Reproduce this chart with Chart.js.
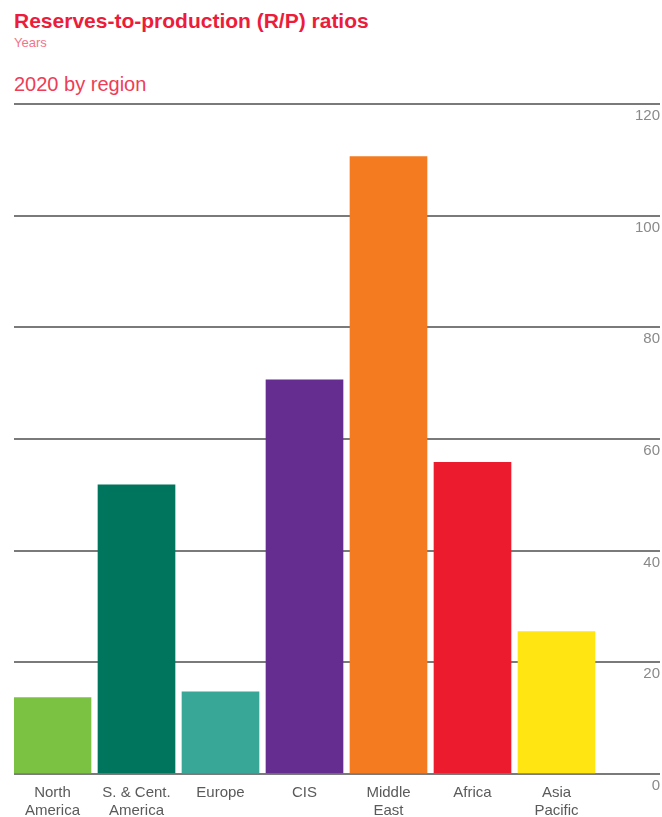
<!DOCTYPE html>
<html>
<head>
<meta charset="utf-8">
<script src="https://cdn.jsdelivr.net/npm/chart.js@4"></script>
<style>
  html, body { margin: 0; padding: 0; background: #fff; }
  #wrap { position: relative; width: 662px; height: 817px; overflow: hidden; }
  .hd { position: absolute; left: 14px; line-height: 1; font-family: "Liberation Sans", Arial, sans-serif; white-space: nowrap; }
  #t1 { top: 10px; font-size: 21px; font-weight: bold; color: #ec1c3a; }
  #t2 { top: 36px; font-size: 13px; color: #f2748a; }
  #t3 { top: 74px; font-size: 20px; color: #ee3d56; }
  canvas { position: absolute; left: 0; top: 0; }
</style>
</head>
<body>
<div id="wrap">
  <div class="hd" id="t1">Reserves-to-production (R/P) ratios</div>
  <div class="hd" id="t2">Years</div>
  <div class="hd" id="t3">2020 by region</div>
  <canvas id="c" width="662" height="817"></canvas>
</div>
<script>
// ---- data ----
const categories = ["North America", "S. & Cent. America", "Europe", "CIS", "Middle East", "Africa", "Asia Pacific"];
const categoryLines = [["North", "America"], ["S. & Cent.", "America"], ["Europe"], ["CIS"], ["Middle", "East"], ["Africa"], ["Asia", "Pacific"]];
const rpYears = [13.7, 51.8, 14.7, 70.6, 110.6, 55.8, 25.5];
const yTicks = [0, 20, 40, 60, 80, 100, 120];
const barColors = ["#7cc242", "#00755d", "#38a797", "#652d8f", "#f47b20", "#ed1b2e", "#ffe512"];

const points = categories.map((c, i) => ({ x: i, y: rpYears[i] }));

new Chart(document.getElementById('c'), {
  type: 'bar',
  data: {
    datasets: [{
      label: 'R/P ratio (years)',
      data: points,
      backgroundColor: barColors,
      borderWidth: 0,
      barThickness: 77
    }]
  },
  options: {
    responsive: false,
    animation: false,
    events: [],
    layout: { padding: { top: 104, left: 14, right: 2, bottom: 0 } },
    plugins: { legend: { display: false }, tooltip: { enabled: false } },
    scales: {
      x: {
        type: 'linear',
        offset: false,
        min: -0.4583,
        max: 7.2321,
        grid: { display: false },
        border: { display: false },
        afterFit: (s) => { s.height = 43; },
        ticks: {
          stepSize: 1,
          includeBounds: false,
          autoSkip: false,
          maxRotation: 0,
          minRotation: 0,
          padding: 2,
          color: '#5a5a5a',
          font: { family: '"Liberation Sans", Arial, sans-serif', size: 15, lineHeight: 1.2 },
          callback: (v) => (Number.isInteger(v) && categoryLines[v]) ? categoryLines[v] : ''
        }
      },
      y: {
        position: 'right',
        min: 0,
        max: 120,
        afterBuildTicks: (s) => { s.ticks = yTicks.map(v => ({ value: v })); },
        grid: { color: '#7a7a7a', lineWidth: 2, drawTicks: false },
        border: { display: false },
        ticks: {
          mirror: true,
          padding: 0,
          labelOffset: 12,
          color: '#8a8a8a',
          font: { family: '"Liberation Sans", Arial, sans-serif', size: 15 }
        }
      }
    }
  }
});
</script>
</body>
</html>
